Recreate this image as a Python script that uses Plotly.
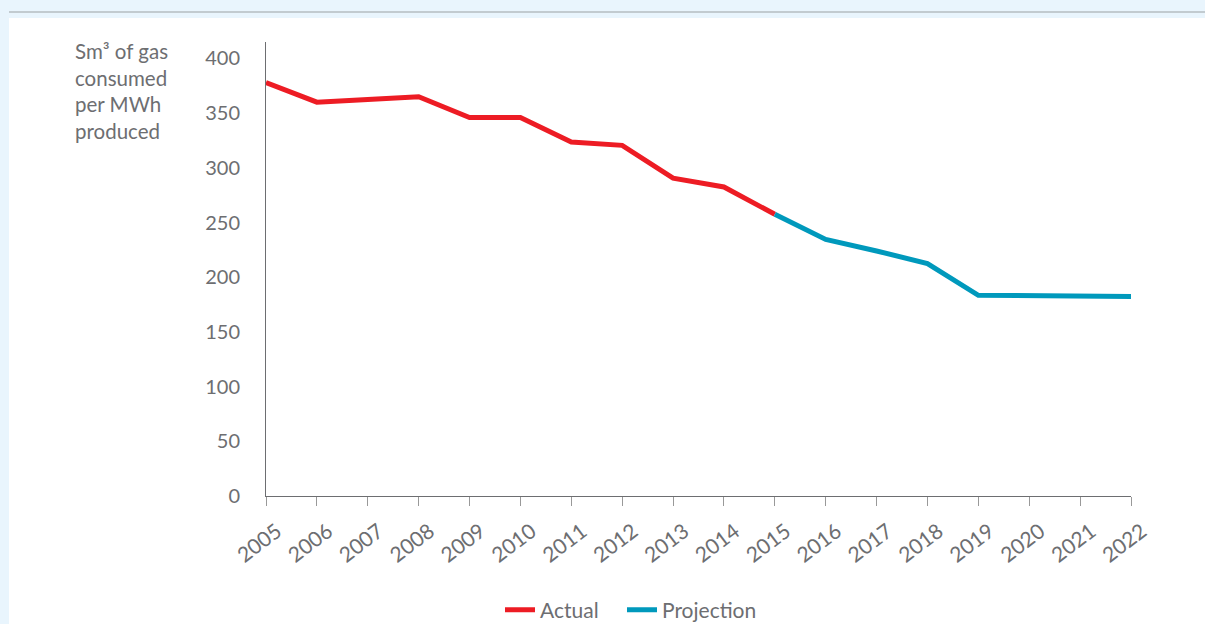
import plotly.graph_objects as go

years_actual = [2005, 2006, 2007, 2008, 2009, 2010, 2011, 2012, 2013, 2014, 2015]
actual = [378, 360, 362.5, 365, 346, 346, 323.5, 320.5, 290.5, 282.5, 257.5]
years_proj = [2015, 2016, 2017, 2018, 2019, 2020, 2021, 2022]
projection = [257.5, 234.5, 224, 212.5, 183.5, 183, 182.7, 182.4]
tick_years = list(range(2005, 2023))
y_ticks = [0, 50, 100, 150, 200, 250, 300, 350, 400]

RED = "#ed1c24"
BLUE = "#0099bc"
GREY = "#6d6e71"
BG = "#e9f5fd"
FONT = "Lato"

W, H = 1205, 624
L, R, T, B = 266, 74, 42, 128
pw, ph = W - L - R, H - T - B

def px_x(x):
    return (x - L) / pw

def px_y(y):
    return (H - B - y) / ph

fig = go.Figure()
fig.add_trace(go.Scatter(x=years_actual, y=actual, mode="lines", name="Actual",
                         line=dict(color=RED, width=5), legend="legend"))
fig.add_trace(go.Scatter(x=years_proj, y=projection, mode="lines", name="Projection",
                         line=dict(color=BLUE, width=5), legend="legend2"))

legend_common = dict(orientation="h", xanchor="left", y=px_y(610), yanchor="middle",
                     font=dict(size=21, color=GREY), bgcolor="rgba(0,0,0,0)", itemwidth=30)

fig.update_layout(
    width=W, height=H,
    margin=dict(l=L, r=R, t=T, b=B, autoexpand=False),
    paper_bgcolor=BG, plot_bgcolor="white",
    font=dict(family=FONT, color=GREY, size=20),
    showlegend=True,
    legend=dict(x=px_x(500), **legend_common),
    legend2=dict(x=px_x(622), **legend_common),
    xaxis=dict(range=[2005, 2022], tickmode="array", tickvals=tick_years,
               ticktext=[str(y) for y in tick_years], tickangle=-37,
               showgrid=False, zeroline=False, showline=True, linecolor=GREY, linewidth=1,
               ticks="outside", ticklen=9, tickcolor="#999999", tickwidth=1,
               ticklabelshift=11, ticklabelstandoff=5,
               tickfont=dict(size=21, color=GREY)),
    yaxis=dict(range=[0, 415], tickmode="array", tickvals=y_ticks,
               showgrid=False, zeroline=False, showline=True, linecolor=GREY, linewidth=1,
               ticks="", ticklabelstandoff=21, tickfont=dict(size=20, color=GREY)),
)

# white panel and top rule
fig.add_shape(type="rect", xref="paper", yref="paper",
              x0=px_x(9), x1=px_x(W + 5), y0=px_y(H + 5), y1=px_y(18),
              fillcolor="white", line=dict(width=0), layer="below")
fig.add_shape(type="line", xref="paper", yref="paper",
              x0=px_x(9), x1=px_x(W + 5), y0=px_y(12), y1=px_y(12),
              line=dict(color="#b5bcc0", width=1.5))

fig.add_annotation(xref="paper", yref="paper", x=px_x(73), y=px_y(37),
                   xanchor="left", yanchor="top", align="left", showarrow=False,
                   text="Sm³ of gas<br>consumed<br>per MWh<br>produced",
                   font=dict(size=20.5, color=GREY, family=FONT))

fig.write_html("out.html", config={"displayModeBar": False},
               post_script="document.body.style.margin='0';document.body.style.background='#e9f5fd';document.body.style.overflow='hidden';")
